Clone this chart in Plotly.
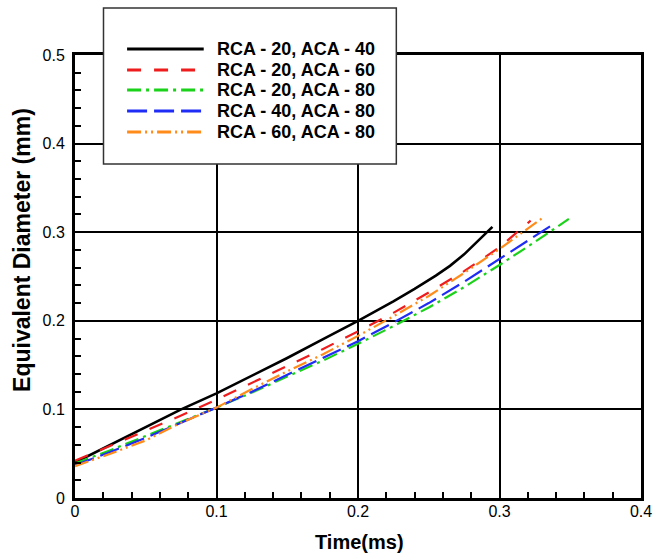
import plotly.graph_objects as go

# ---------------- data ----------------
series_names = ["RCA - 20, ACA - 40", "RCA - 20, ACA - 60", "RCA - 20, ACA - 80",
                "RCA - 40, ACA - 80", "RCA - 60, ACA - 80"]

t_black = [0, 0.025, 0.05, 0.075, 0.1, 0.125, 0.15, 0.175, 0.2, 0.225, 0.24, 0.255, 0.265, 0.275, 0.285, 0.295]
d_black = [0.040, 0.060, 0.080, 0.100, 0.118, 0.138, 0.158, 0.179, 0.200, 0.222, 0.236, 0.251, 0.262, 0.275, 0.290, 0.306]

t_red = [0, 0.025, 0.05, 0.075, 0.1, 0.125, 0.15, 0.175, 0.2, 0.225, 0.25, 0.275, 0.3, 0.322]
d_red = [0.042, 0.059, 0.076, 0.093, 0.111, 0.130, 0.149, 0.168, 0.188, 0.209, 0.232, 0.256, 0.283, 0.313]

t_green = [0, 0.025, 0.05, 0.075, 0.1, 0.125, 0.15, 0.175, 0.2, 0.225, 0.25, 0.275, 0.3, 0.325, 0.349]
d_green = [0.039, 0.054, 0.070, 0.086, 0.102, 0.119, 0.137, 0.155, 0.174, 0.194, 0.215, 0.238, 0.263, 0.289, 0.315]

t_blue = [0, 0.025, 0.05, 0.075, 0.1, 0.125, 0.15, 0.175, 0.2, 0.225, 0.25, 0.275, 0.3, 0.337]
d_blue = [0.037, 0.052, 0.068, 0.085, 0.102, 0.120, 0.139, 0.158, 0.177, 0.198, 0.220, 0.244, 0.270, 0.308]

t_orange = [0, 0.025, 0.05, 0.075, 0.1, 0.125, 0.15, 0.175, 0.2, 0.225, 0.25, 0.275, 0.3, 0.332]
d_orange = [0.036, 0.050, 0.065, 0.085, 0.102, 0.123, 0.143, 0.162, 0.183, 0.205, 0.228, 0.254, 0.281, 0.318]

x_ticks = [0, 0.1, 0.2, 0.3, 0.4]
x_tick_labels = ["0", "0.1", "0.2", "0.3", "0.4"]
y_ticks = [0, 0.1, 0.2, 0.3, 0.4, 0.5]
y_tick_labels = ["0", "0.1", "0.2", "0.3", "0.4", "0.5"]

# ---------------- styles ----------------
colors = ["#000000", "#ee1c1c", "#19d219", "#1f2cf5", "#ff8c1a"]
dashes = ["solid", "14px,13px", "14px,5px,3px,5px", "20px,7px", "14px,4px,2px,4px,2px,4px"]
widths = [2.6, 2.2, 2.2, 2.2, 2.2]

FONT = "Liberation Sans, Arial, sans-serif"

fig = go.Figure()
data = [(t_black, d_black), (t_red, d_red), (t_green, d_green), (t_blue, d_blue), (t_orange, d_orange)]
for (xs, ys), name, c, d, w in zip(data, series_names, colors, dashes, widths):
    fig.add_trace(go.Scatter(x=xs, y=ys, mode="lines", name=name, showlegend=False,
                             line=dict(color=c, dash=d, width=w)))

W, H = 664, 558
ML, MR, MT, MB = 75, 13, 55, 60
PW, PH = W - ML - MR, H - MT - MB

def px2x(px):
    return (px - ML) / PW

def py2y(py):
    return (H - MB - py) / PH

axis_common = dict(showline=True, linewidth=3, linecolor="black", mirror=True,
                   showgrid=True, gridcolor="black", gridwidth=1.5,
                   ticks="inside", ticklen=10, tickwidth=2, tickcolor="black",
                   zeroline=False,
                   tickfont=dict(family=FONT, size=16, color="black"),
                   minor=dict(dtick=0.02, ticks="inside", ticklen=6, tickwidth=1.5,
                              tickcolor="black", showgrid=False))

fig.update_xaxes(range=[0, 0.4], tickvals=x_ticks, ticktext=x_tick_labels,
                 ticklabelstandoff=-3, **axis_common)
fig.update_yaxes(range=[0, 0.5], tickvals=y_ticks, ticktext=y_tick_labels,
                 ticklabelstandoff=4, **axis_common)

shapes = []
annotations = []
# custom legend box
shapes.append(dict(type="rect", xref="paper", yref="paper",
                   x0=px2x(104), x1=px2x(402), y0=py2y(164), y1=py2y(8),
                   fillcolor="white", line=dict(color="#333333", width=1.5), layer="above"))
row_y = [49, 70, 90, 111, 132]
for name, c, d, w, ry in zip(series_names, colors, dashes, widths, row_y):
    shapes.append(dict(type="line", xref="paper", yref="paper",
                       x0=px2x(128), x1=px2x(206), y0=py2y(ry), y1=py2y(ry),
                       line=dict(color=c, dash=d, width=w + 0.6), layer="above"))
    annotations.append(dict(text="<b>%s</b>" % name, xref="paper", yref="paper",
                            x=px2x(217), y=py2y(ry), xanchor="left", yanchor="middle",
                            showarrow=False, font=dict(family=FONT, size=18, color="black")))

annotations.append(dict(text="<b>Time(ms)</b>", xref="paper", yref="paper",
                        x=px2x(365), y=py2y(542), xanchor="center", yanchor="middle",
                        showarrow=False, font=dict(family=FONT, size=20, color="black")))
annotations.append(dict(text="<b>Equivalent Diameter (mm)</b>", xref="paper", yref="paper",
                        x=px2x(21), y=py2y(250), xanchor="center", yanchor="middle",
                        textangle=-90, showarrow=False,
                        font=dict(family=FONT, size=23, color="black")))

fig.update_layout(width=W, height=H, margin=dict(l=ML, r=MR, t=MT, b=MB),
                  paper_bgcolor="white", plot_bgcolor="white",
                  shapes=shapes, annotations=annotations, showlegend=False)

fig.write_html("out.html")
